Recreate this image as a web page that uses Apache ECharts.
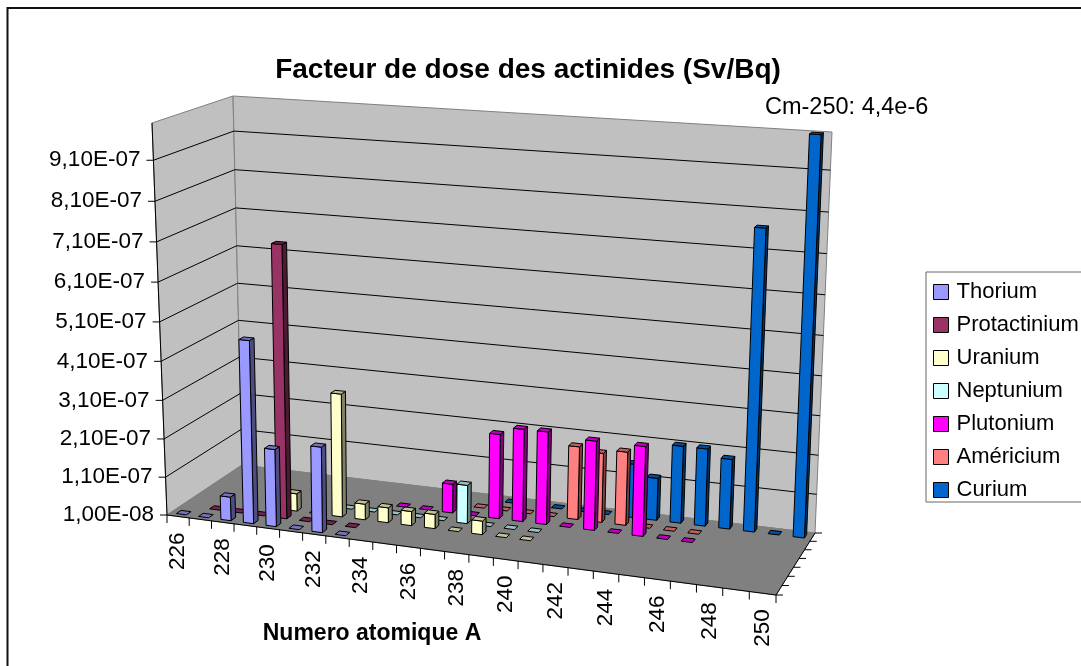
<!DOCTYPE html>
<html><head><meta charset="utf-8">
<style>html,body{margin:0;padding:0;background:#fff}#c{width:1081px;height:666px}</style>
<script src="https://cdn.jsdelivr.net/npm/echarts@6/dist/echarts.min.js"></script>
</head><body><div id="c"></div>
<script>
const categories = [226,227,228,229,230,231,232,233,234,235,236,237,238,239,240,241,242,243,244,245,246,247,248,249,250];
const yTickValues = [1e-8,1.1e-7,2.1e-7,3.1e-7,4.1e-7,5.1e-7,6.1e-7,7.1e-7,8.1e-7,9.1e-7];
const yTickLabels = ['1,00E-08','1,10E-07','2,10E-07','3,10E-07','4,10E-07','5,10E-07','6,10E-07','7,10E-07','8,10E-07','9,10E-07'];
const xTickLabels = ['226','','228','','230','','232','','234','','236','','238','','240','','242','','244','','246','','248','','250'];
// [mass number, dose factor]
const thorium = [[226,3.5e-10],[227,8.9e-9],[228,7.2e-8],[229,4.8e-7],[230,2.1e-7],[231,3.4e-10],[232,2.3e-7],[233,3e-10]];
const protactinium = [[227,4.5e-10],[228,7.8e-10],[229,1.2e-9],[230,7.1e-7],[231,9.2e-10],[232,7.2e-10],[233,8.7e-10]];
const uranium = [[230,5.6e-8],[231,2.8e-10],[232,3.3e-7],[233,5.1e-8],[234,4.9e-8],[235,4.7e-8],[236,4.7e-8],[237,7.6e-10],[238,4.5e-8],[239,2.8e-10],[240,1.1e-9]];
const neptunium = [[232,9.7e-12],[233,2.2e-12],[234,8.1e-10],[235,5.3e-11],[236,1.7e-9],[237,1.1e-7],[238,9.1e-10],[239,8e-10],[240,8.2e-11]];
const plutonium = [[234,1.6e-10],[235,2.1e-12],[236,8.6e-8],[237,1e-10],[238,2.3e-7],[239,2.5e-7],[240,2.5e-7],[241,4.8e-9],[242,2.4e-7],[243,8.5e-11],[244,2.4e-7],[245,7.2e-10],[246,3.3e-9]];
const americium = [[237,1.8e-11],[238,8.5e-11],[239,2.4e-10],[240,5.8e-10],[241,2e-7],[242,1.9e-7],[243,2e-7],[244,4.6e-10],[245,6.2e-11],[246,5.8e-11]];
const curium = [[238,8e-11],[240,7.6e-9],[241,9.1e-10],[242,8e-9],[243,1.5e-7],[244,1.2e-7],[245,2.1e-7],[246,2.1e-7],[247,1.9e-7],[248,7.7e-7],[249,3.1e-11],[250,4.4e-6]];
const seriesNames = ['Thorium','Protactinium','Uranium','Neptunium','Plutonium','Américium','Curium'];
const seriesValues = [thorium,protactinium,uranium,neptunium,plutonium,americium,curium];
const seriesColors = ['#9999FF','#993366','#FFFFCC','#CCFFFF','#FF00FF','#FF8080','#0066CC'];
const FONT = '"Liberation Sans", Arial, sans-serif';

// view of the box: floor and top plane corners (front-left, front-right, back-right, back-left)
const floorQuad = [[167,515],[776,595],[815,533],[242,465]];
const topQuad = [[152,123],[792,165],[832,132],[233,96]];
function makeH(q){
  const [[x0,y0],[x1,y1],[x2,y2],[x3,y3]] = q;
  const sx=x0-x1+x2-x3, sy=y0-y1+y2-y3, dx1=x1-x2, dx2=x3-x2, dy1=y1-y2, dy2=y3-y2;
  const den=dx1*dy2-dx2*dy1, g=(sx*dy2-dx2*sy)/den, h=(dx1*sy-sx*dy1)/den;
  const a=x1-x0+g*x1, b=x3-x0+h*x3, d=y1-y0+g*y1, e=y3-y0+h*y3;
  return (u,v)=>{const k=g*u+h*v+1;return [(a*u+b*v+x0)/k,(d*u+e*v+y0)/k];};
}
const Hf=makeH(floorQuad), Ht=makeH(topQuad);
function P(u,v,w){
  const wp = w - 0.05*w*(1-w);
  const uw = u + 0.026*u*(1-u);
  const A=Hf(uw,v), B=Ht(uw,v);
  return [A[0]+(B[0]-A[0])*wp, A[1]+(B[1]-A[1])*wp];
}
const BAR_U=0.45, BAR_V=0.42;
const nCat=categories.length, nRow=seriesNames.length;
function shade(hex,f){
  const n=parseInt(hex.slice(1),16);
  const c=[n>>16,(n>>8)&255,n&255].map(x=>Math.round(x*f));
  return 'rgb('+c.join(',')+')';
}
function poly(points,fill,stroke,lw){
  return {type:'polygon',shape:{points},style:{fill,stroke:stroke||'#000',lineWidth:lw==null?1:lw,lineJoin:'round'},silent:true};
}
function line(a,b,stroke,lw){
  return {type:'line',shape:{x1:a[0],y1:a[1],x2:b[0],y2:b[1]},style:{stroke,lineWidth:lw||1},silent:true};
}
function toUW(api,params,cat,val){
  const p=api.coord([cat,val]), r=params.coordSys;
  return [(p[0]-r.x)/r.width, Math.max(0,Math.min(1,(r.y+r.height-p[1])/r.height))];
}
function renderBar(row){
  return function(params,api){
    const [u,w]=toUW(api,params,api.value(0),api.value(1));
    const du=BAR_U/nCat/2, dv=BAR_V/nRow/2, v=(row+0.5)/nRow, col=seriesColors[row];
    const u0=u-du,u1=u+du,v0=v-dv,v1=v+dv;
    const kids=[];
    if(w>0.0005){
      kids.push(poly([P(u1,v0,0),P(u1,v1,0),P(u1,v1,w),P(u1,v0,w)],shade(col,0.5)));
      kids.push(poly([P(u0,v0,0),P(u1,v0,0),P(u1,v0,w),P(u0,v0,w)],col));
    }
    kids.push(poly([P(u0,v0,w),P(u1,v0,w),P(u1,v1,w),P(u0,v1,w)],shade(col,0.75)));
    return {type:'group',children:kids};
  };
}
function renderFrame(params,api){
  const kids=[];
  const wOf=val=>toUW(api,params,0,val)[1];
  // walls and floor
  kids.push(poly([P(0,0,0),P(0,0,1),P(0,1,1),P(0,1,0)],'#C0C0C0','#808080'));
  kids.push(poly([P(0,1,0),P(0,1,1),P(1,1,1),P(1,1,0)],'#C0C0C0','#808080'));
  kids.push(poly([P(0,0,0),P(1,0,0),P(1,1,0),P(0,1,0)],'#808080','#808080'));
  // grid lines
  yTickValues.forEach((val,i)=>{
    const w=wOf(val);
    if(i>0){
      kids.push(line(P(0,0,w),P(0,1,w),'#000'));
      kids.push(line(P(0,1,w),P(1,1,w),'#000'));
    }
    const a=P(0,0,w);
    kids.push(line([a[0]-7,a[1]],a,'#000'));
    kids.push({type:'text',silent:true,style:{text:yTickLabels[i],x:a[0]-13,y:a[1],align:'right',verticalAlign:'middle',fill:'#000',font:'22.5px '+FONT}});
  });
  // axes lines
  kids.push(line(P(0,0,0),P(0,0,1),'#000'));
  kids.push(line(P(0,0,0),P(1,0,0),'#000'));
  kids.push(line(P(1,0,0),P(1,1,0),'#000'));
  // x ticks and labels
  for(let i=0;i<=nCat;i++){
    const a=P(i/nCat,0,0);
    kids.push(line(a,[a[0],a[1]+8],'#000'));
  }
  categories.forEach((c,i)=>{
    if(!xTickLabels[i])return;
    const a=P((i+0.5)/nCat,0,0);
    kids.push({type:'text',silent:true,x:a[0],y:a[1]+16,rotation:Math.PI/2,style:{text:xTickLabels[i],x:0,y:0,align:'right',verticalAlign:'middle',fill:'#000',font:'22.5px '+FONT}});
  });
  // depth ticks
  for(let r=0;r<=nRow;r++){
    const a=P(1,r/nRow,0);
    kids.push(line(a,[a[0]+7,a[1]],'#000'));
  }
  return {type:'group',children:kids};
}
const series=[{
  type:'custom',name:'frame',coordinateSystem:'cartesian2d',clip:false,z:1,silent:true,
  renderItem:renderFrame,data:[['226',1e-8]],encode:{x:0,y:1},tooltip:{show:false}
}];
seriesNames.forEach((name,row)=>{
  series.push({
    type:'custom',name,coordinateSystem:'cartesian2d',clip:false,z:10-row+1,
    itemStyle:{color:seriesColors[row]},
    renderItem:renderBar(row),
    data:seriesValues[row].map(d=>[String(d[0]),d[1]]),encode:{x:0,y:1}
  });
});
const chart=echarts.init(document.getElementById('c'),null,{renderer:'canvas'});
chart.setOption({
  animation:false,backgroundColor:'#fff',
  title:{text:'Facteur de dose des actinides (Sv/Bq)',left:523,textAlign:'center',top:51,textStyle:{fontFamily:FONT,fontWeight:'bold',fontSize:28,color:'#000'}},
  grid:{left:100,top:100,width:800,height:400,show:false},
  xAxis:{type:'category',data:categories.map(String),show:false},
  yAxis:{type:'value',min:1e-8,max:1e-6,interval:1e-7,show:false},
  legend:{orient:'vertical',left:926,top:272,data:seriesNames,icon:'rect',itemWidth:15,itemHeight:15,itemGap:11,
    padding:[9,60,1,7],borderColor:'#666',borderWidth:1,backgroundColor:'#fff',selectedMode:false,
    itemStyle:{borderColor:'#000',borderWidth:1},
    textStyle:{fontFamily:FONT,fontSize:22,color:'#000',padding:[0,0,0,3]}},
  graphic:[
    {type:'rect',z:-1,shape:{x:7.5,y:8,width:1200,height:800},style:{fill:'#fff',stroke:'#111',lineWidth:2}},
    {type:'text',style:{text:'Cm-250: 4,4e-6',x:765,y:108,verticalAlign:'middle',fill:'#000',font:'23.5px '+FONT}},
    {type:'text',style:{text:'Numero atomique A',x:372,y:634,align:'center',verticalAlign:'middle',fill:'#000',font:'bold 23px '+FONT}}
  ],
  series
});
</script></body></html>
